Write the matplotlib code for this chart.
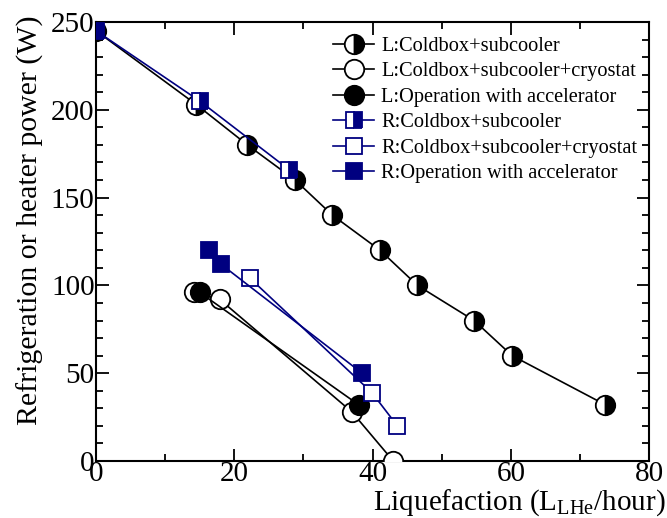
import matplotlib
matplotlib.use("Agg")
import matplotlib.pyplot as plt
from matplotlib.ticker import MultipleLocator

plt.rcParams['font.family'] = ['Liberation Serif', 'DejaVu Serif']
plt.rcParams['mathtext.fontset'] = 'custom'
plt.rcParams['mathtext.rm'] = 'Liberation Serif'
plt.rcParams['mathtext.it'] = 'Liberation Serif'

# L: Coldbox+subcooler
l_cs_x = [0, 14.5, 21.9, 28.8, 34.2, 41.1, 46.5, 54.7, 60.2, 73.7]
l_cs_y = [245, 203, 180, 160, 140, 120, 100, 80, 60, 32]
# L: Coldbox+subcooler+cryostat
l_csc_x = [14.2, 17.9, 37.0, 43.0]
l_csc_y = [96, 92, 28, 0]
# L: Operation with accelerator
l_op_x = [15.0, 38.0]
l_op_y = [96, 32]
# R: Coldbox+subcooler
r_cs_x = [0, 15.0, 27.9]
r_cs_y = [245, 205, 166]
# R: Coldbox+subcooler+cryostat
r_csc_x = [22.3, 39.9, 43.6]
r_csc_y = [104, 39, 20]
# R: Operation with accelerator
r_op_x = [16.4, 18.1, 38.5]
r_op_y = [120, 112, 50]

navy = '#000080'

fig = plt.figure(figsize=(6.67, 5.18), dpi=100)
ax = fig.add_axes([0.144, 0.110, 0.829, 0.8475])

ax.plot(l_cs_x, l_cs_y, color='black', lw=1.2, marker='o', ms=14,
        fillstyle='right', markerfacecolor='black', markerfacecoloralt='white',
        markeredgecolor='black', mew=1.3, label='L:Coldbox+subcooler', zorder=3)
ax.plot(l_csc_x, l_csc_y, color='black', lw=1.2, marker='o', ms=14,
        markerfacecolor='white', markeredgecolor='black', mew=1.3,
        label='L:Coldbox+subcooler+cryostat', zorder=3)
ax.plot(l_op_x, l_op_y, color='black', lw=1.2, marker='o', ms=14,
        markerfacecolor='black', markeredgecolor='black', mew=1.3,
        label='L:Operation with accelerator', zorder=4)
ax.plot(r_cs_x, r_cs_y, color=navy, lw=1.2, marker='s', ms=12,
        fillstyle='right', markerfacecolor=navy, markerfacecoloralt='white',
        markeredgecolor=navy, mew=1.3, label='R:Coldbox+subcooler', zorder=5)
ax.plot(r_csc_x, r_csc_y, color=navy, lw=1.2, marker='s', ms=12,
        markerfacecolor='white', markeredgecolor=navy, mew=1.3,
        label='R:Coldbox+subcooler+cryostat', zorder=5)
ax.plot(r_op_x, r_op_y, color=navy, lw=1.2, marker='s', ms=12,
        markerfacecolor=navy, markeredgecolor=navy, mew=1.3,
        label='R:Operation with accelerator', zorder=6)

ax.set_xlim(0, 80)
ax.set_ylim(0, 250)
ax.xaxis.set_major_locator(MultipleLocator(20))
ax.xaxis.set_minor_locator(MultipleLocator(10))
ax.yaxis.set_major_locator(MultipleLocator(50))
ax.yaxis.set_minor_locator(MultipleLocator(10))
ax.tick_params(which='both', direction='in', top=True, right=True, labelsize=21, width=1.3)
ax.tick_params(which='major', length=9, pad=1)
ax.tick_params(axis='x', which='major', pad=0)
ax.tick_params(which='minor', length=5)
for s in ax.spines.values():
    s.set_linewidth(1.5)

ax.set_xlabel('Liquefaction (L$_{\\mathrm{LHe}}$/hour)', fontsize=21, ha='right', va='top')
ax.xaxis.set_label_coords(1.03, -0.06)
ax.set_ylabel('Refrigeration or heater power (W)', fontsize=21.5)
ax.yaxis.set_label_coords(-0.095, 0.549)

leg = ax.legend(loc='upper right', frameon=False, fontsize=14.7, handlelength=2.0,
                handletextpad=0.35, labelspacing=0.3, borderaxespad=0.0,
                bbox_to_anchor=(0.994, 0.985), markerscale=1.0)

fig.savefig('out.png', dpi=100)
